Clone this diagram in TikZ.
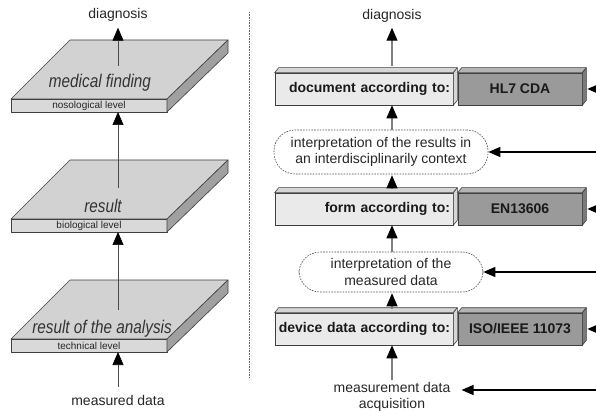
\documentclass[tikz,border=0pt]{standalone}
\usepackage{fontspec}
\setmainfont{Liberation Sans}
\usetikzlibrary{arrows.meta,calc}
\definecolor{topgray}{HTML}{D2D2D2}
\definecolor{frontgray}{HTML}{D9D9D9}
\definecolor{sidegray}{HTML}{A0A0A0}
\definecolor{lightbox}{HTML}{EAEAEA}
\definecolor{lightbevel}{HTML}{D6D6D6}
\definecolor{darkbox}{HTML}{9A9A9A}
\definecolor{darkbevel}{HTML}{B4B4B4}
\definecolor{darkside}{HTML}{7A7A7A}
\definecolor{inkgray}{HTML}{262626}
\newcommand{\myplate}[1]{%
  \begin{scope}[shift={(0,#1)}]
    \filldraw[face, fill=topgray] (70,0) -- (228,0) -- (167,59) -- (11,59) -- cycle;
    \filldraw[face, fill=frontgray] (11,59) rectangle (167,72);
    \filldraw[face, fill=sidegray] (167,59) -- (228,0) -- (228,13) -- (167,72) -- cycle;
  \end{scope}}
\newcommand{\mybevel}[3]{%
  \filldraw[face, fill=#2] (#1.north west) -- ++(4,-5) -- ($(#1.north east)+(4,-5)$) -- (#1.north east) -- cycle;
  \filldraw[face, fill=#3] (#1.north east) -- ++(4,-5) -- ($(#1.south east)+(4,-5)$) -- (#1.south east) -- cycle;}
\begin{document}
\begin{tikzpicture}[x=1pt,y=-1pt,
  face/.style={draw=black!75, line width=0.6pt, line join=round},
  lbl/.style={font=\fontsize{14}{16.5}\selectfont, text=inkgray, align=center, inner sep=0pt},
  lvl/.style={font=\fontsize{10}{12}\selectfont, text=inkgray, inner sep=0pt},
  tilt/.style={font=\fontsize{15.3}{17}\selectfont\itshape, text=black!80, inner sep=0pt},
  lbox/.style={draw=black!75, line width=0.6pt, fill=lightbox, minimum height=32pt,
    text width=172pt, inner xsep=3pt, inner ysep=0pt, align=right,
    font=\fontsize{14}{16}\selectfont\bfseries, text=black!90},
  rbox/.style={draw=black!75, line width=0.6pt, fill=darkbox, minimum height=32pt,
    minimum width=124pt, inner sep=0pt, align=center,
    font=\fontsize{14}{16}\selectfont\bfseries, text=black!90},
  cloud/.style={draw=black!70, line width=0.6pt, dash pattern=on 1.6pt off 1.2pt,
    rounded corners=21pt, inner sep=0pt, align=center,
    font=\fontsize{14}{16.5}\selectfont, text=inkgray},
  thinup/.style={draw=black!70, line width=0.7pt, -{Triangle[width=11pt,length=13pt,color=black]}},
  grayup/.style={draw=black!50, line width=1.1pt, -{Triangle[width=11pt,length=13pt,color=black]}},
  feed/.style={draw=black, line width=1.5pt, -{Triangle[width=10pt,length=12pt]}}
]
\useasboundingbox (0,0) rectangle (596,411);

% ---------- left: three levels ----------
\myplate{40}
\myplate{160}
\myplate{280}

\node[tilt] (t1) at (100,83) {\scalebox{1}[1.2]{medical finding}};
\node[lvl] (lv1) at (89,106) {nosological level};
\node[tilt] (t2) at (103,206) {\scalebox{1}[1.2]{result}};
\node[lvl] (lv2) at (89,226) {biological level};
\node[tilt] (t3) at (102,329) {\scalebox{1}[1.2]{result of the analysis}};
\node[lvl] (lv3) at (89,346) {technical level};

\node[lbl] (dl) at (118,15) {diagnosis};
\node[lbl] (md) at (118,400) {measured data};

\coordinate (s1) at (118,66);
\coordinate (b1) at (118,112);
\coordinate (s2) at (118,188);
\coordinate (b2) at (118,232);
\coordinate (s3) at (118,310);
\coordinate (b3) at (118,352);

\draw[thinup] (s1) -- (dl.south) [shorten >=6pt];
\draw[thinup] (s2) -- (b1);
\draw[thinup] (s3) -- (b2);
\draw[thinup] (md.north) [shorten <=8pt] -- (b3);

% separator
\draw[black!60, line width=0.8pt, dash pattern=on 0.8pt off 0.8pt] (249,12) -- (249,378);

% ---------- right: standards ----------
\coordinate (col) at (392,0);

\node[lbox] (doc) at (364,89) {document according to:};
\node[rbox] (hl7) at (520,89) {HL7 CDA};
\node[lbox] (form) at (364,209) {form according to:};
\node[rbox] (en) at (520,209) {EN13606};
\node[lbox] (dev) at (364,329) {device data according to:};
\node[rbox] (iso) at (520,329) {ISO/IEEE 11073};

\mybevel{doc}{lightbevel}{lightbevel}
\mybevel{hl7}{darkbevel}{darkside}
\mybevel{form}{lightbevel}{lightbevel}
\mybevel{en}{darkbevel}{darkside}
\mybevel{dev}{lightbevel}{lightbevel}
\mybevel{iso}{darkbevel}{darkside}

\node[cloud, minimum width=214pt, minimum height=44pt] (e1) at (381,152)
  {interpretation of the results in\\an interdisciplinarily context};
\node[cloud, minimum width=184pt, minimum height=40pt] (e2) at (391,272)
  {interpretation of the\\measured data};

\node[lbl] (dr) at (392,16) {diagnosis};
\node[lbl] (meas) at (392,397) {measurement data\\acquisition};

\draw[grayup, shorten <=7pt, shorten >=5pt] (doc.north -| col) -- (dr.south -| col);
\draw[grayup] (e1.north -| col) -- (doc.south -| col);
\draw[grayup, shorten <=4pt, shorten >=1pt] (form.north -| col) -- (e1.south -| col);
\draw[grayup] (e2.north -| col) -- (form.south -| col);
\draw[grayup, shorten <=4pt, shorten >=1pt] (dev.north -| col) -- (e2.south -| col);
\draw[grayup, shorten <=2pt] (meas.north -| col) -- (dev.south -| col);

\coordinate (r1) at (596,89);
\coordinate (r2) at (596,152);
\coordinate (r3) at (596,209);
\coordinate (r4) at (596,272);
\coordinate (r5) at (596,329);
\coordinate (r6) at (596,390);

\draw[feed] (r1) -- ($(hl7.east)+(5,0)$);
\draw[feed] (r2) -- (e1.east);
\draw[feed] (r3) -- ($(en.east)+(5,0)$);
\draw[feed] (r4) -- (e2.east);
\draw[feed] (r5) -- ($(iso.east)+(5,0)$);
\draw[feed, shorten >=11pt] (r6) -- (meas.east |- r6);
\end{tikzpicture}
\end{document}
